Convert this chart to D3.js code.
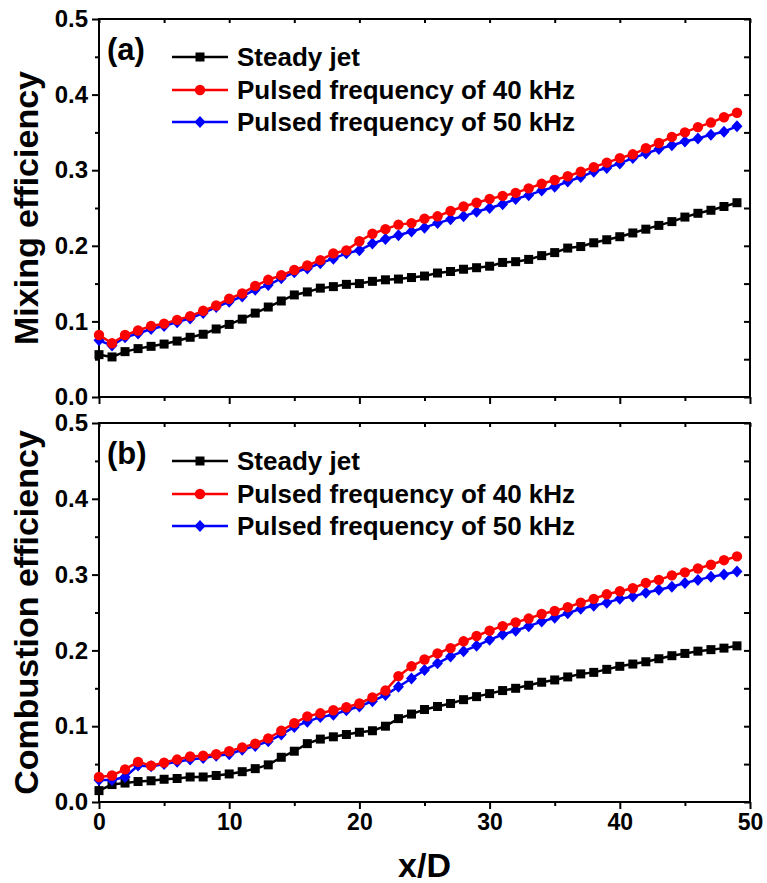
<!DOCTYPE html>
<html>
<head>
<meta charset="utf-8">
<script src="https://cdn.jsdelivr.net/npm/d3@7"></script>
<style>
  body { margin: 0; background: #fff; }
  text { font-family: "Liberation Sans", Arial, sans-serif; font-weight: bold; }
</style>
</head>
<body>
<div id="chart"></div>
<script>
// x positions (x/D)
const xD = d3.range(0, 50);

// (a) mixing efficiency
const mixSteady = [0.056,0.053,0.060,0.064,0.067,0.070,0.074,0.079,0.083,0.090,
  0.096,0.103,0.111,0.119,0.127,0.135,0.139,0.144,0.146,0.149,
  0.150,0.153,0.155,0.156,0.158,0.160,0.164,0.166,0.169,0.171,
  0.173,0.178,0.179,0.182,0.187,0.191,0.197,0.199,0.204,0.208,
  0.212,0.217,0.222,0.227,0.232,0.238,0.243,0.247,0.252,0.257];
const mix40 = [0.082,0.071,0.082,0.088,0.094,0.097,0.102,0.107,0.114,0.121,
  0.130,0.137,0.147,0.155,0.161,0.168,0.174,0.181,0.190,0.194,
  0.206,0.216,0.222,0.228,0.230,0.236,0.239,0.246,0.252,0.257,
  0.262,0.266,0.270,0.276,0.282,0.287,0.292,0.298,0.304,0.310,
  0.316,0.321,0.329,0.336,0.344,0.350,0.357,0.363,0.370,0.376];
const mix50 = [0.075,0.068,0.079,0.084,0.090,0.094,0.099,0.104,0.111,0.119,
  0.126,0.133,0.142,0.148,0.157,0.165,0.170,0.177,0.183,0.190,
  0.194,0.203,0.209,0.214,0.219,0.224,0.230,0.235,0.239,0.245,
  0.250,0.255,0.262,0.267,0.273,0.278,0.285,0.291,0.298,0.303,
  0.309,0.316,0.322,0.328,0.333,0.338,0.342,0.347,0.351,0.358];

// (b) combustion efficiency
const combSteady = [0.015,0.023,0.025,0.027,0.028,0.030,0.031,0.033,0.033,0.035,
  0.037,0.040,0.044,0.049,0.059,0.067,0.077,0.083,0.086,0.089,
  0.092,0.094,0.100,0.110,0.116,0.122,0.126,0.130,0.135,0.139,
  0.143,0.147,0.150,0.154,0.158,0.161,0.165,0.169,0.171,0.175,
  0.179,0.182,0.185,0.189,0.193,0.196,0.199,0.201,0.203,0.206];
const comb40 = [0.033,0.035,0.043,0.053,0.048,0.052,0.056,0.060,0.061,0.063,
  0.067,0.072,0.077,0.084,0.094,0.104,0.113,0.117,0.121,0.125,
  0.130,0.138,0.147,0.166,0.179,0.188,0.196,0.203,0.212,0.219,
  0.226,0.232,0.237,0.242,0.248,0.252,0.257,0.263,0.268,0.274,
  0.278,0.282,0.289,0.293,0.299,0.303,0.308,0.313,0.319,0.324];
const comb50 = [0.029,0.029,0.033,0.048,0.047,0.050,0.053,0.056,0.058,0.061,
  0.063,0.069,0.074,0.080,0.089,0.099,0.106,0.112,0.115,0.121,
  0.126,0.133,0.141,0.152,0.163,0.174,0.183,0.192,0.199,0.206,
  0.214,0.221,0.226,0.232,0.238,0.243,0.249,0.255,0.259,0.263,
  0.268,0.271,0.276,0.280,0.284,0.289,0.293,0.297,0.300,0.304];

const seriesNames = ['Steady jet', 'Pulsed frequency of 40 kHz', 'Pulsed frequency of 50 kHz'];
const xTicks = [0, 10, 20, 30, 40, 50];
const yTicks = [0, 0.1, 0.2, 0.3, 0.4, 0.5];

const W = 767, H = 883;
const left = 99, right = 750;

const svg = d3.select('#chart').append('svg')
  .attr('width', W).attr('height', H);

const x = d3.scaleLinear().domain([0, 50]).range([left, right]);

const styles = [
  {color: '#000000', shape: 'square'},
  {color: '#ff0000', shape: 'circle'},
  {color: '#0000ff', shape: 'diamond'}
];

function marker(g, shape, color, cx, cy) {
  if (shape === 'square') {
    g.append('rect').attr('x', cx - 4.5).attr('y', cy - 4.5)
      .attr('width', 9).attr('height', 9).attr('fill', color);
  } else if (shape === 'circle') {
    g.append('circle').attr('cx', cx).attr('cy', cy).attr('r', 5.2).attr('fill', color);
  } else {
    const r = 6;
    g.append('path')
      .attr('d', `M${cx},${cy - r}L${cx + r - 0.5},${cy}L${cx},${cy + r}L${cx - r + 0.5},${cy}Z`)
      .attr('fill', color);
  }
}

function panel(top, bottom, data, label, yTitle, showXLabels) {
  const y = d3.scaleLinear().domain([0, 0.5]).range([bottom, top]);
  const g = svg.append('g');

  // frame
  g.append('rect').attr('x', left).attr('y', top)
    .attr('width', right - left).attr('height', bottom - top)
    .attr('fill', 'none').attr('stroke', '#000').attr('stroke-width', 2);

  const minorY = d3.range(0.05, 0.5, 0.1);
  const minorX = d3.range(5, 50, 10);

  // left axis
  const yAxis = g.append('g').attr('transform', `translate(${left},0)`)
    .call(d3.axisLeft(y).tickValues(yTicks).tickFormat(d3.format('.1f')).tickSize(7).tickPadding(4).tickSizeOuter(0));
  g.append('g').attr('transform', `translate(${left},0)`)
    .call(d3.axisLeft(y).tickValues(minorY).tickFormat('').tickSize(4).tickSizeOuter(0));

  // right axis, inward ticks
  g.append('g').attr('transform', `translate(${right},0)`)
    .call(d3.axisRight(y).tickValues(yTicks.concat(minorY)).tickFormat('').tickSize(-6).tickSizeOuter(0));

  // top axis, inward ticks
  g.append('g').attr('transform', `translate(0,${top})`)
    .call(d3.axisTop(x).tickValues(xTicks.concat(minorX)).tickFormat('').tickSize(-4).tickSizeOuter(0));

  // bottom axis
  const xAxis = g.append('g').attr('transform', `translate(0,${bottom})`)
    .call(d3.axisBottom(x).tickValues(xTicks).tickFormat(showXLabels ? d3.format('d') : '').tickSize(7).tickPadding(5).tickSizeOuter(0));
  g.append('g').attr('transform', `translate(0,${bottom})`)
    .call(d3.axisBottom(x).tickValues(minorX).tickFormat('').tickSize(4).tickSizeOuter(0));

  g.selectAll('.domain').remove();
  g.selectAll('.tick line').attr('stroke', '#000').attr('stroke-width', 2);
  yAxis.selectAll('text').attr('font-size', 24).attr('fill', '#000')
    .style('font-family', '"Liberation Sans", Arial, sans-serif').style('font-weight', 'bold');
  xAxis.selectAll('text').attr('font-size', 23).attr('fill', '#000')
    .style('font-family', '"Liberation Sans", Arial, sans-serif').style('font-weight', 'bold');

  // y title
  g.append('text')
    .attr('transform', `translate(38,${(top + bottom) / 2}) rotate(-90)`)
    .attr('text-anchor', 'middle').attr('font-size', 34).text(yTitle);

  // series: steady, 50 kHz, then 40 kHz on top
  const line = d3.line().x((d, i) => x(xD[i])).y(d => y(d));
  [0, 2, 1].forEach(k => {
    const s = styles[k];
    const sg = g.append('g');
    sg.append('path').datum(data[k]).attr('d', line)
      .attr('fill', 'none').attr('stroke', s.color).attr('stroke-width', 2.5);
    data[k].forEach((v, i) => marker(sg, s.shape, s.color, x(xD[i]), y(v)));
  });

  // panel label
  g.append('text').attr('x', 107).attr('y', top + 41).attr('font-size', 31).text(label);

  // legend
  const rows = [38, 71, 103];
  seriesNames.forEach((name, k) => {
    const cy = top + rows[k];
    const s = styles[k];
    const lg = g.append('g');
    lg.append('line').attr('x1', 172).attr('x2', 228).attr('y1', cy).attr('y2', cy)
      .attr('stroke', s.color).attr('stroke-width', 2.5);
    marker(lg, s.shape, s.color, 200, cy);
    lg.append('text').attr('x', 237).attr('y', cy + 9).attr('font-size', 26).text(name);
  });
}

panel(19, 397, [mixSteady, mix40, mix50], '(a)', 'Mixing efficiency', false);
panel(423, 802, [combSteady, comb40, comb50], '(b)', 'Combustion efficiency', true);

// x title
svg.append('text').attr('x', (left + right) / 2).attr('y', 877)
  .attr('text-anchor', 'middle').attr('font-size', 34)
  .text('x/D');
</script>
</body>
</html>
